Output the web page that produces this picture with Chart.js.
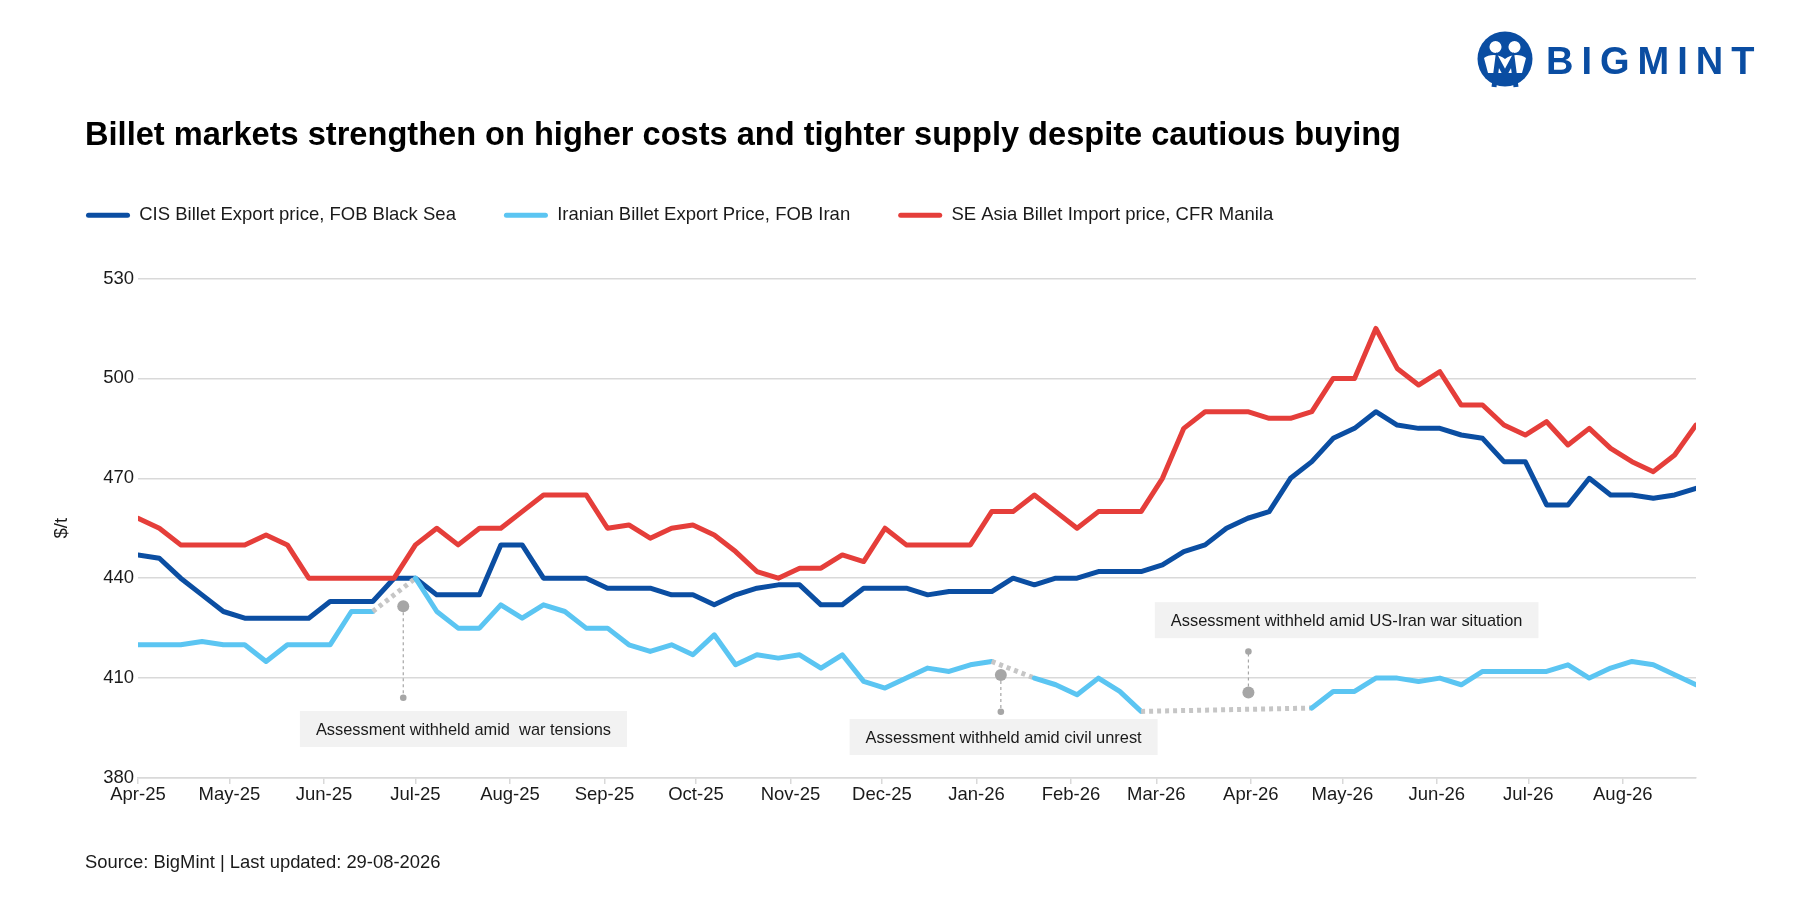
<!DOCTYPE html>
<html>
<head>
<meta charset="utf-8">
<script src="https://cdn.jsdelivr.net/npm/chart.js@4.4.1/dist/chart.umd.min.js"></script>
<style>
  html, body { margin: 0; padding: 0; background: #ffffff; }
  #wrap { position: relative; width: 1800px; height: 900px; overflow: hidden; font-family: "Liberation Sans", Arial, sans-serif; }
  #chartBox { position: absolute; left: 0; top: 0; width: 1800px; height: 900px; }
  #title { position: absolute; left: 85px; top: 118px; font-weight: bold; font-size: 32.6px; line-height: 1; color: #000; white-space: nowrap; }
  #source { position: absolute; left: 85px; top: 853px; font-size: 18.4px; line-height: 1; color: #1a1a1a; white-space: nowrap; }
  #logoIcon { position: absolute; left: 1477px; top: 31px; }
  #logoText { position: absolute; left: 1546px; top: 42px; font-weight: bold; font-size: 38px; line-height: 1; letter-spacing: 8px; color: #0a4da2; white-space: nowrap; }
</style>
</head>
<body>
<div id="wrap">
  <div id="chartBox"><canvas id="c"></canvas></div>
  <div id="title">Billet markets strengthen on higher costs and tighter supply despite cautious buying</div>
  <div id="source">Source: BigMint | Last updated: 29-08-2026</div>
  <svg id="logoIcon" width="56" height="60" viewBox="0 0 56 60">
    <circle cx="28" cy="28" r="27.5" fill="#0a4da2"/>
    <path d="M7,27 C12,23 22,23 28,28 C34,23 44,23 49,27 L45,42 L11,42 Z" fill="#ffffff"/>
    <circle cx="18.5" cy="16" r="6.8" fill="#ffffff" stroke="#0a4da2" stroke-width="1.5"/>
    <circle cx="37.5" cy="16" r="6.8" fill="#ffffff" stroke="#0a4da2" stroke-width="1.5"/>
    <path d="M17,56 L20.5,29 L28,43 L35.5,29 L39,56" fill="none" stroke="#0a4da2" stroke-width="5" stroke-linejoin="miter"/>
  </svg>
  <div id="logoText">BIGMINT</div>
</div>
<script>
// ---- Data (weekly assessments, first week = Apr-25) ----
const monthLabels = ['Apr-25','May-25','Jun-25','Jul-25','Aug-25','Sep-25','Oct-25','Nov-25','Dec-25','Jan-26','Feb-26','Mar-26','Apr-26','May-26','Jun-26','Jul-26','Aug-26'];
const monthDays   = [0, 30, 61, 91, 122, 153, 183, 214, 244, 275, 306, 334, 365, 395, 426, 456, 487];

const cisValues = [447,446,440,435,430,428,428,428,428,433,
                   433,433,440,440,435,435,435,450,450,440,
                   440,440,437,437,437,435,435,432,435,437,
                   438,438,432,432,437,437,437,435,436,436,
                   436,440,438,440,440,442,442,442,444,448,
                   450,455,458,460,470,475,482,485,490,486,
                   485,485,483,482,475,475,462,462,470,465,
                   465,464,465,467];

const iranValues = [420,420,420,421,420,420,415,420,420,420,
                    430,430,null,440,430,425,425,432,428,432,
                    430,425,425,420,418,420,417,423,414,417,
                    416,417,413,417,409,407,410,413,412,414,
                    415,null,410,408,405,410,406,400,null,null,
                    null,null,null,null,null,401,406,406,410,410,
                    409,410,408,412,412,412,412,414,410,413,
                    415,414,411,408];

const seaValues = [458,455,450,450,450,450,453,450,440,440,
                   440,440,440,450,455,450,455,455,460,465,
                   465,465,455,456,452,455,456,453,448,442,
                   440,443,443,447,445,455,450,450,450,450,
                   460,460,465,460,455,460,460,460,470,485,
                   490,490,490,488,488,490,500,500,515,503,
                   498,502,492,492,486,483,487,480,485,479,
                   475,472,477,486];

const seriesNames = ['CIS Billet Export price, FOB Black Sea', 'Iranian Billet Export Price, FOB Iran', 'SE Asia Billet Import price, CFR Manila'];
const yTicks = [380, 410, 440, 470, 500, 530];

const DAYS_PER_WEEK = 7;
const toPoints = arr => arr.map((v, i) => ({ x: i * DAYS_PER_WEEK, y: v }));
const lastDay = (cisValues.length - 1) * DAYS_PER_WEEK;

// ---- Annotations (data coordinates: day offset, $/t) ----
const notes = [
  { text: 'Assessment withheld amid  war tensions', left: 53.1, mid: 394.7, marker: [87, 431.6], dot: [87, 404.1] },
  { text: 'Assessment withheld amid civil unrest', left: 233.4, mid: 392.3, marker: [283, 410.9], dot: [283, 399.9] },
  { text: 'Assessment withheld amid US-Iran war situation', left: 333.5, mid: 427.4, marker: [364.2, 405.7], dot: [364.2, 418] }
];

const FONT = '"Liberation Sans", Arial, sans-serif';
Chart.defaults.font.family = FONT;
Chart.defaults.color = '#1a1a1a';

const gapStyle = (ctx, v) => (ctx.p0.skip || ctx.p1.skip) ? v : undefined;

const annotationPlugin = {
  id: 'notes',
  afterDatasetsDraw(chart) {
    const { ctx, scales: { x, y } } = chart;
    ctx.save();
    ctx.font = '16.4px ' + FONT;
    notes.forEach(n => {
      const tw = ctx.measureText(n.text).width;
      const bx = x.getPixelForValue(n.left);
      const by = y.getPixelForValue(n.mid);
      ctx.fillStyle = '#f2f2f2';
      ctx.fillRect(bx, by - 18, tw + 32, 36);
      ctx.fillStyle = '#1a1a1a';
      ctx.textBaseline = 'middle';
      ctx.textAlign = 'left';
      ctx.fillText(n.text, bx + 16, by + 1);
      const mx = x.getPixelForValue(n.marker[0]);
      const my = y.getPixelForValue(n.marker[1]);
      const dy = y.getPixelForValue(n.dot[1]);
      ctx.strokeStyle = '#a6a6a6';
      ctx.lineWidth = 1.2;
      ctx.setLineDash([3, 3]);
      ctx.beginPath(); ctx.moveTo(mx, my); ctx.lineTo(mx, dy); ctx.stroke();
      ctx.setLineDash([]);
      ctx.fillStyle = '#a6a6a6';
      ctx.beginPath(); ctx.arc(mx, my, 6, 0, Math.PI * 2); ctx.fill();
      ctx.beginPath(); ctx.arc(mx, dy, 3.3, 0, Math.PI * 2); ctx.fill();
    });
    ctx.restore();
  }
};

const commonLine = {
  borderWidth: 5,
  pointRadius: 0,
  pointHoverRadius: 0,
  tension: 0,
  borderJoinStyle: 'round',
  borderCapStyle: 'round',
  fill: false
};

new Chart(document.getElementById('c'), {
  type: 'line',
  data: {
    datasets: [
      Object.assign({}, commonLine, { label: seriesNames[0], data: toPoints(cisValues), borderColor: '#0b4ea2', backgroundColor: '#0b4ea2', order: 3 }),
      Object.assign({}, commonLine, {
        label: seriesNames[1], data: toPoints(iranValues), borderColor: '#5bc5f2', backgroundColor: '#5bc5f2', order: 2,
        spanGaps: true,
        segment: {
          borderColor: ctx => gapStyle(ctx, '#c6c6c6'),
          borderDash: ctx => gapStyle(ctx, [4, 4]),
          borderCapStyle: ctx => gapStyle(ctx, 'butt')
        }
      }),
      Object.assign({}, commonLine, { label: seriesNames[2], data: toPoints(seaValues), borderColor: '#e53e3a', backgroundColor: '#e53e3a', order: 1 })
    ]
  },
  options: {
    responsive: true,
    maintainAspectRatio: false,
    animation: false,
    devicePixelRatio: 1,
    layout: { padding: { left: 38, right: 104, top: 158, bottom: 82 } },
    plugins: {
      tooltip: { enabled: false },
      legend: {
        display: true,
        position: 'top',
        align: 'start',
        labels: {
          font: { size: 18.5, family: FONT },
          color: '#1a1a1a',
          boxWidth: 44,
          boxHeight: 5,
          useBorderRadius: true,
          borderRadius: 2.5,
          padding: 48,
          sort: (a, b) => a.datasetIndex - b.datasetIndex,
          generateLabels: chart => Chart.defaults.plugins.legend.labels.generateLabels(chart)
            .map(l => Object.assign(l, { lineWidth: 0, fillStyle: l.strokeStyle }))
        }
      },
      subtitle: {
        display: true,
        text: '',
        weight: 500,
        color: 'rgba(0,0,0,0)',
        font: { size: 10 },
        padding: { top: 0, bottom: 32 }
      }
    },
    scales: {
      x: {
        type: 'linear',
        min: 0,
        max: lastDay,
        afterBuildTicks: scale => { scale.ticks = monthDays.map(v => ({ value: v })); },
        afterFit: scale => { scale.height = 40; },
        ticks: {
          autoSkip: false,
          maxRotation: 0,
          minRotation: 0,
          padding: 0,
          color: '#1a1a1a',
          font: { size: 18.5 },
          callback: (value, index) => monthLabels[index]
        },
        grid: { display: true, drawOnChartArea: false, drawTicks: true, tickLength: 6, color: '#d9d9d9', lineWidth: 1.5 },
        border: { display: true, color: '#d9d9d9', width: 1.5 }
      },
      y: {
        min: 380,
        max: 530,
        afterBuildTicks: scale => { scale.ticks = yTicks.map(v => ({ value: v })); },
        afterFit: scale => { scale.width = 100; },
        ticks: { padding: 4, color: '#1a1a1a', font: { size: 18.5 } },
        grid: { color: '#d9d9d9', lineWidth: 1.5, drawTicks: false },
        border: { display: false },
        title: { display: true, text: '$/t', color: '#1a1a1a', font: { size: 18.5 }, padding: { top: 13, bottom: 0 } }
      }
    }
  },
  plugins: [annotationPlugin]
});
</script>
</body>
</html>
